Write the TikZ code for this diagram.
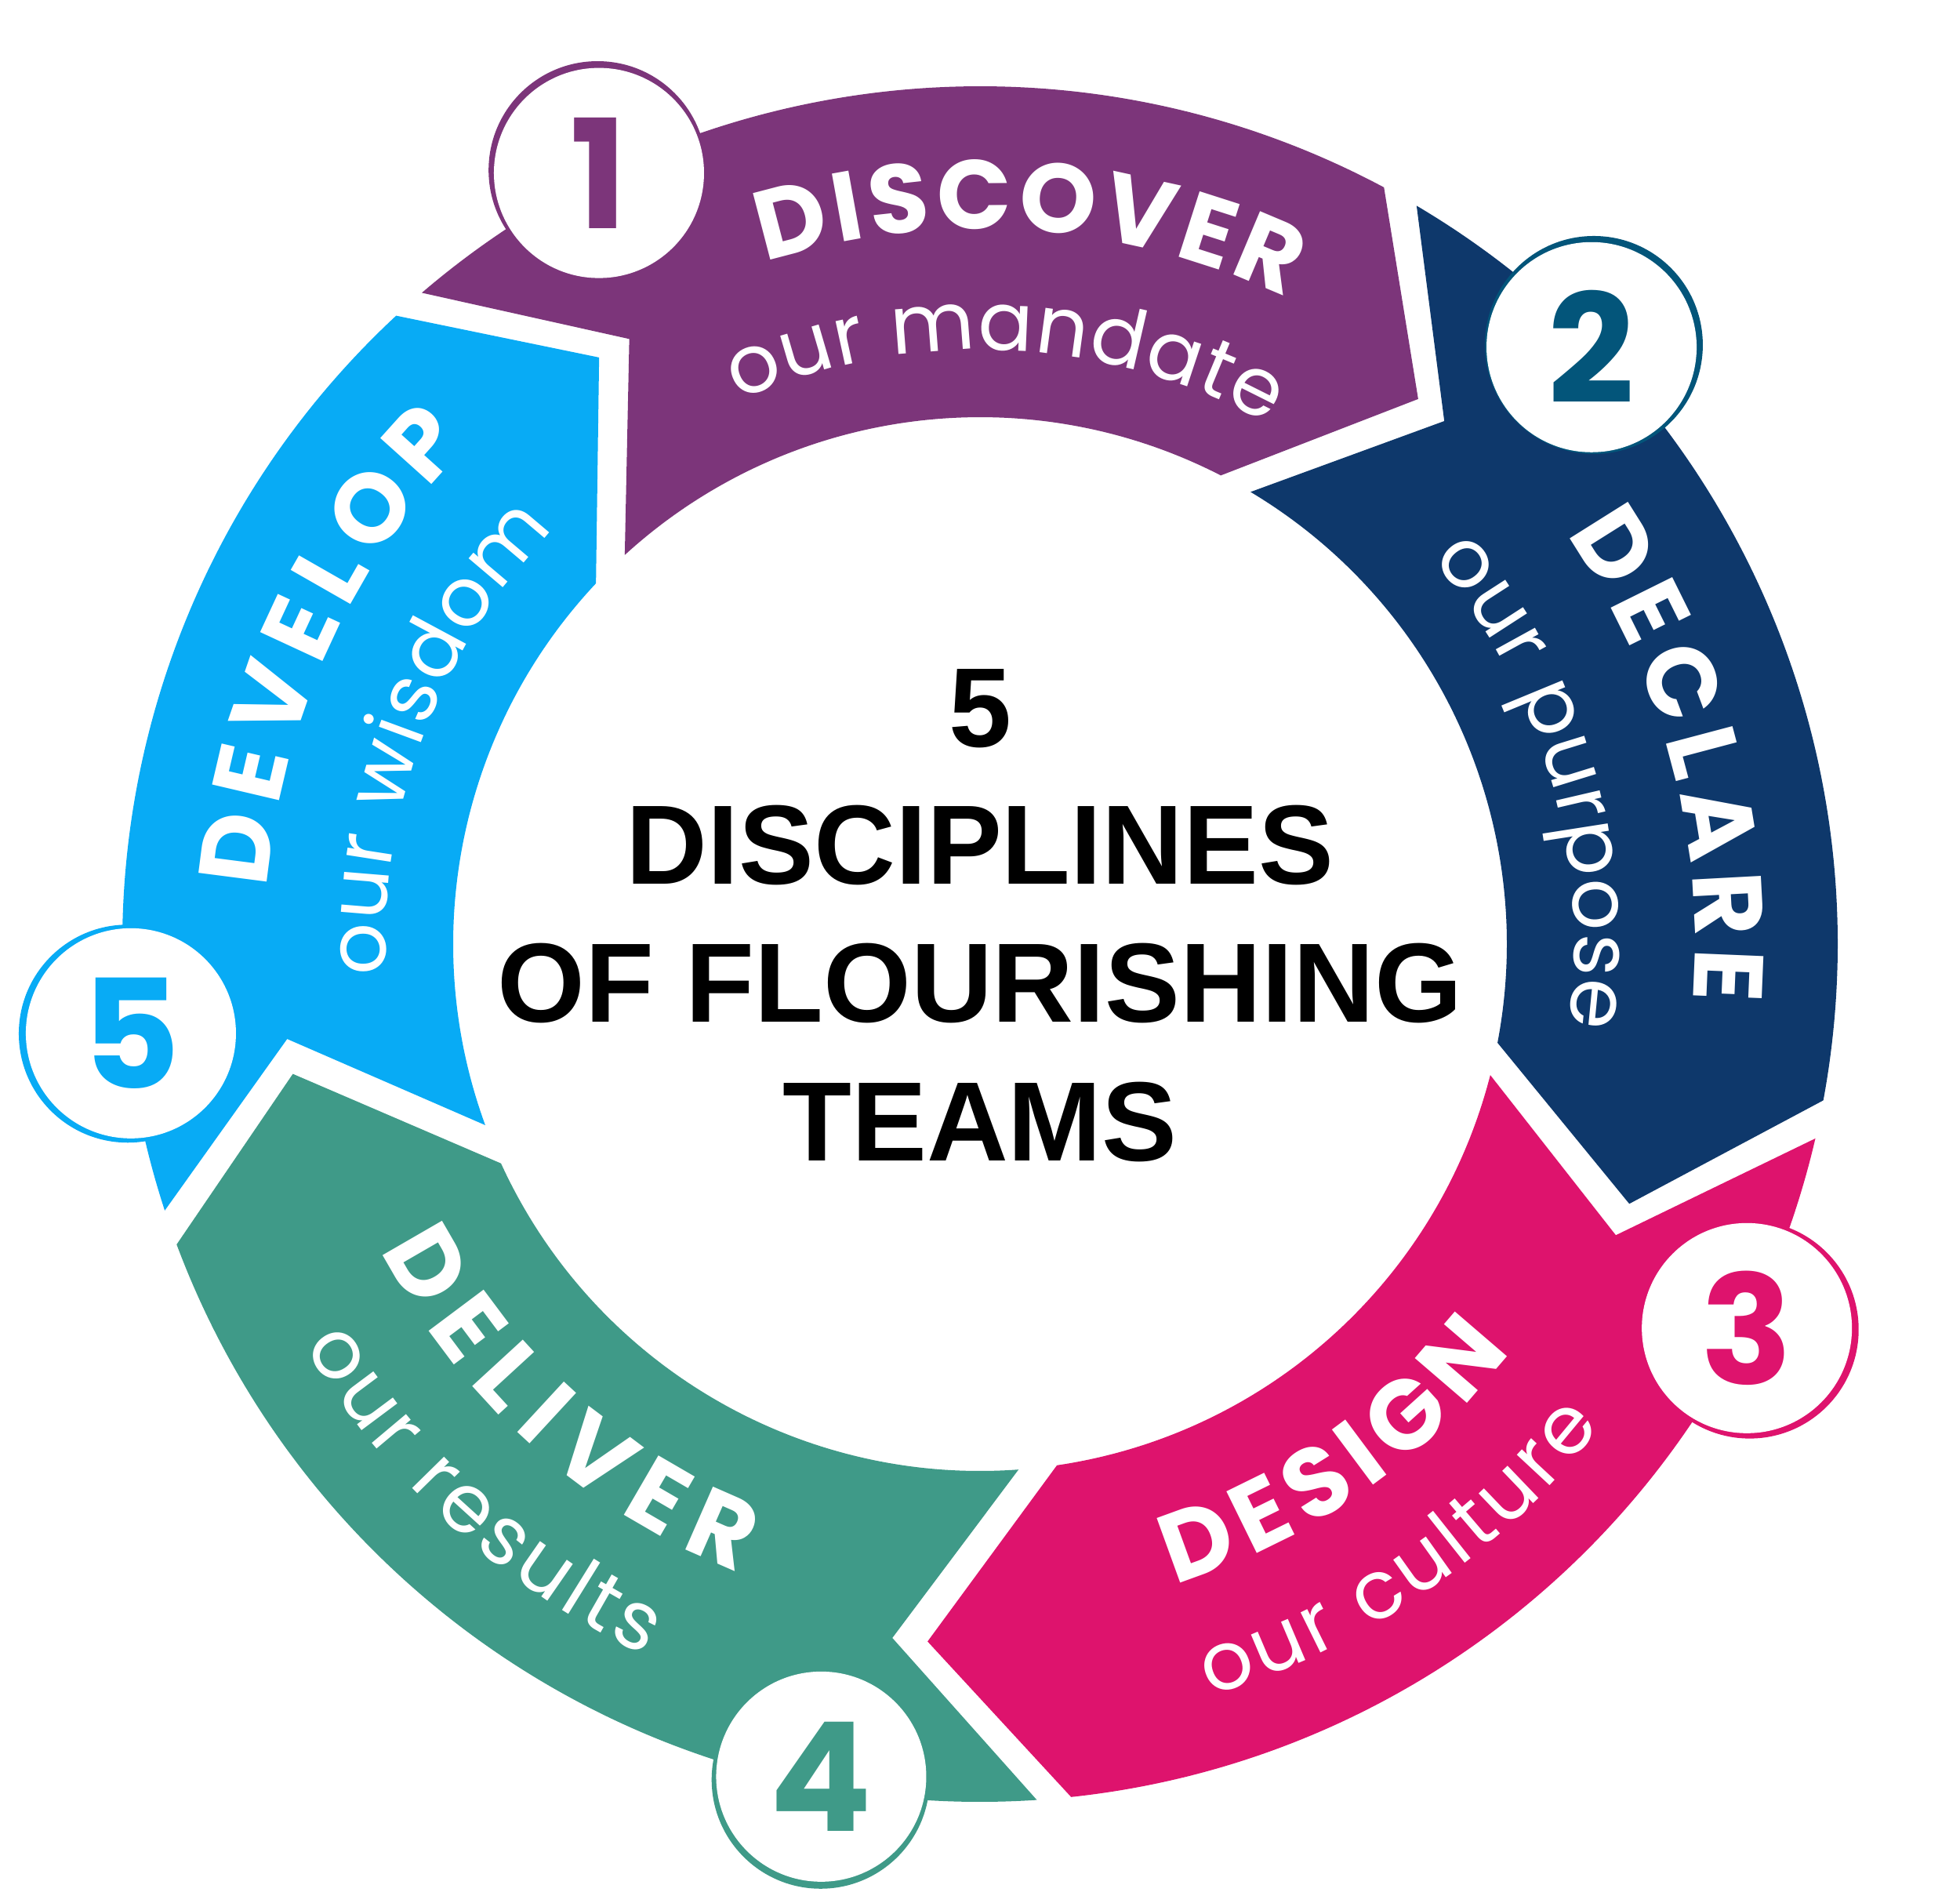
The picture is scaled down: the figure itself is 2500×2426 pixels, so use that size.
\documentclass[tikz,border=0pt]{standalone}
\usepackage{fontspec}
\setmainfont{Poppins}
\newfontfamily\hubfont{Liberation Sans}
\usepackage{tikz}
\usetikzlibrary{decorations.text}

\definecolor{segpurple}{HTML}{7C357A}
\definecolor{segnavy}{HTML}{0E386B}
\definecolor{segsteel}{HTML}{03557A}
\definecolor{segrose}{HTML}{DE136D}
\definecolor{segteal}{HTML}{3F9A88}
\definecolor{segsky}{HTML}{08ABF5}

\newcommand{\bandtitle}{\fontsize{35.5}{36}\selectfont\bfseries}
\newcommand{\bandsub}{\fontsize{29.6}{30}\selectfont}

% white text spread along an arc: start angle, end angle, radius, font, text
\newcommand{\arclabel}[5]{%
  \path[decorate, decoration={text along path, text align=fit to path, text color=white, text={|#4|#5}}]
    (#1:#3) arc[start angle=#1, end angle=#2, radius=#3];}

\begin{document}
\begin{tikzpicture}[x=0.01cm, y=0.01cm,
    hub/.style={font=\hubfont\fontsize{40.9}{41}\selectfont\bfseries, text=black, inner sep=0pt},
    numlabel/.style={font=\fontsize{55}{55}\selectfont\bfseries, inner sep=0pt}]
    \useasboundingbox (-1250,-1222) rectangle (1250,1204);

    % five arrow bands round the ring
    \foreach \to/\ti/\tn/\ho/\hi/\hp/\col in {
        130.6/132.4/120.1/61.9/62.8/51.2/segpurple,
        59.4/59.1/48.4/-10.5/-10.8/-21.8/segnavy,
        -13.1/-14.4/-24.6/-83.9/-81.6/-94.3/segrose,
        -86.2/-85.8/-97.2/-159.5/-155.4/-169.3/segteal,
        198.1/200.1/187.8/132.9/136.8/123.0/segsky}
        \fill[\col] (\to:1094) arc[start angle=\to, end angle=\ho, radius=1094]
            -- (\hp:892) -- (\hi:672) arc[start angle=\hi, end angle=\ti, radius=672]
            -- (\tn:892) -- cycle;

    % number discs
    \foreach \ang/\rad/\rr/\col/\ringcol/\num in {
        116.3/1097/1101/segpurple/segpurple/1,
        44.3/1090/1094/segsteel/segsteel/2,
        -26.6/1094/1098/segrose/segrose/3,
        -100.8/1081/1085/segteal/segteal/4,
        186/1089/1093/segsky/segsky/5}{
        \fill[\ringcol] (\ang:\rr) circle[radius=139];
        \fill[white] (\ang:\rad) circle[radius=134];
        \node[numlabel, text=\col] (num\num) at (\ang:\rad) {\num};
    }

    % band texts (clockwise on top, counter-clockwise below)
    \arclabel{107.5}{64.6}{912}{\bandtitle}{DISCOVER}
    \arclabel{114}{61}{758}{\bandsub}{our mandate}
    \arclabel{35}{-4.5}{912}{\bandtitle}{DECLARE}
    \arclabel{40.5}{-8}{758}{\bandsub}{our purpose}
    \arclabel{-73.1}{-37.5}{853}{\bandtitle}{DESIGN}
    \arclabel{-73}{-37.8}{1003}{\bandsub}{our culture}
    \arclabel{207}{249}{858}{\bandtitle}{DELIVER}
    \arclabel{210.7}{244.8}{1003}{\bandsub}{our results}
    \arclabel{175.5}{135.6}{912}{\bandtitle}{DEVELOP}
    \arclabel{183}{135.7}{758}{\bandsub}{our wisdom}

    % centre title
    \foreach \y/\txt [count=\i] in {252/5, 77/DISCIPLINES, -99/OF FLOURISHING, -276/TEAMS}
        \node[hub, anchor=base] (hub\i) at (0,\y) {\txt};
\end{tikzpicture}
\end{document}
